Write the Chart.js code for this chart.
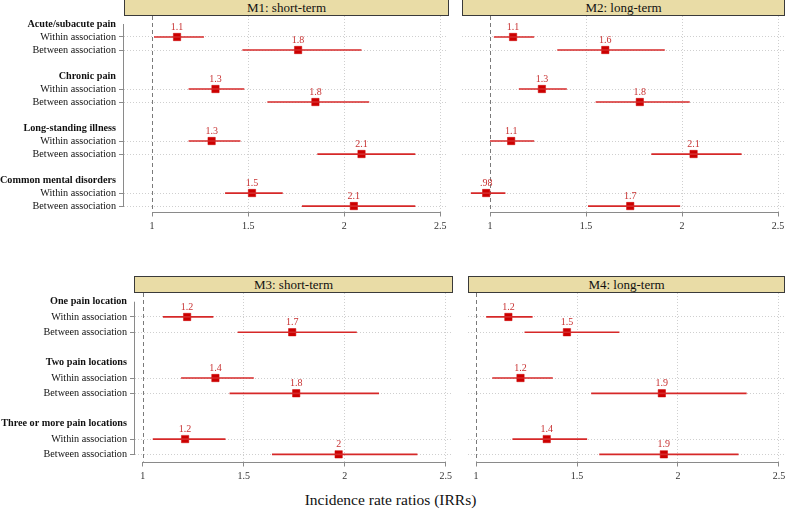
<!DOCTYPE html>
<html>
<head>
<meta charset="utf-8">
<script src="https://cdn.jsdelivr.net/npm/chart.js@4.4.0/dist/chart.umd.min.js"></script>
<style>
  body { margin: 0; width: 787px; height: 510px; background: #fff; position: relative; overflow: hidden; font-family: "Liberation Serif", serif; }
  canvas { position: absolute; }
  .head { position: absolute; box-sizing: border-box; background: #e9dca6; border: 1px solid #3a3a3a; font-size: 13px; line-height: 15px; text-align: center; color: #111; }
  #xtitle { position: absolute; left: 0; width: 781px; top: 491px; text-align: center; font-size: 15.5px; color: #111; }
</style>
</head>
<body>
<div class="head" style="left:124px;top:-1px;width:325px;height:17px">M1: short-term</div>
<div class="head" style="left:462px;top:-1px;width:323px;height:17px">M2: long-term</div>
<div class="head" style="left:134px;top:276px;width:319px;height:17px">M3: short-term</div>
<div class="head" style="left:468px;top:276px;width:317px;height:17px">M4: long-term</div>

<canvas id="m1" width="448" height="224" style="left:0;top:16px"></canvas>
<canvas id="m2" width="323" height="224" style="left:462px;top:16px"></canvas>
<canvas id="m3" width="453" height="196" style="left:0;top:293px"></canvas>
<canvas id="m4" width="317" height="196" style="left:468px;top:293px"></canvas>

<div id="xtitle">Incidence rate ratios (IRRs)</div>

<script>
// rows of each panel: for every group a "Within" and a "Between" estimate
const topGroups = ['Acute/subacute pain', 'Chronic pain', 'Long-standing illness', 'Common mental disorders'];
const bottomGroups = ['One pain location', 'Two pain locations', 'Three or more pain locations'];
const effects = ['Within association', 'Between association'];
const xTicks = [1, 1.5, 2, 2.5];

const m1Est = [1.13, 1.76, 1.33, 1.85, 1.31, 2.09, 1.52, 2.05];
const m1Lo  = [1.01, 1.47, 1.19, 1.60, 1.19, 1.86, 1.38, 1.78];
const m1Hi  = [1.27, 2.09, 1.48, 2.13, 1.46, 2.37, 1.68, 2.37];
const m1Lab = ['1.1', '1.8', '1.3', '1.8', '1.3', '2.1', '1.5', '2.1'];

const m2Est = [1.12, 1.60, 1.27, 1.78, 1.11, 2.06, 0.98, 1.73];
const m2Lo  = [1.02, 1.35, 1.15, 1.55, 1.00, 1.84, 0.90, 1.51];
const m2Hi  = [1.23, 1.91, 1.40, 2.04, 1.23, 2.31, 1.08, 1.99];
const m2Lab = ['1.1', '1.6', '1.3', '1.8', '1.1', '2.1', '.98', '1.7'];

const m3Est = [1.22, 1.74, 1.36, 1.76, 1.21, 1.97];
const m3Lo  = [1.10, 1.47, 1.19, 1.43, 1.05, 1.64];
const m3Hi  = [1.35, 2.06, 1.55, 2.17, 1.41, 2.36];
const m3Lab = ['1.2', '1.7', '1.4', '1.8', '1.2', '2'];

const m4Est = [1.16, 1.45, 1.22, 1.92, 1.35, 1.93];
const m4Lo  = [1.05, 1.24, 1.08, 1.57, 1.18, 1.61];
const m4Hi  = [1.28, 1.71, 1.38, 2.34, 1.55, 2.30];
const m4Lab = ['1.2', '1.5', '1.2', '1.9', '1.4', '1.9'];

const fontFamily = '"Liberation Serif", "Times New Roman", serif';
const axisGrey = '#8a8a8a';
const dotGrey = '#cfcfcf';

// y slots: heading, within, between, blank, heading, ...
function slotLabels(groups) {
  const out = [];
  groups.forEach(function (g, i) {
    if (i) out.push('');
    out.push(g, effects[0], effects[1]);
  });
  return out;
}
function rowSlot(i) { return Math.floor(i / 2) * 4 + 1 + (i % 2); }
function isRow(v) { return v % 4 === 1 || v % 4 === 2; }

const forestDecor = {
  id: 'forestDecor',
  beforeDatasetsDraw(chart, args, opts) {
    const ctx = chart.ctx;
    const area = chart.chartArea;
    const x = chart.scales.x, y = chart.scales.y;
    ctx.save();
    // reference line at IRR = 1
    const x1 = Math.round(x.getPixelForValue(1)) + 0.5;
    ctx.strokeStyle = '#7a7a7a';
    ctx.lineWidth = 1;
    ctx.setLineDash([4, 3]);
    ctx.beginPath();
    ctx.moveTo(x1, area.top);
    ctx.lineTo(x1, area.bottom);
    ctx.stroke();
    ctx.setLineDash([]);
    // axis lines only across the labelled range
    ctx.strokeStyle = axisGrey;
    ctx.beginPath();
    const by = Math.round(area.bottom) + 0.5;
    ctx.moveTo(x.getPixelForValue(xTicks[0]), by);
    ctx.lineTo(x.getPixelForValue(xTicks[xTicks.length - 1]), by);
    if (opts.yLine) {
      const lx = Math.round(area.left) - 0.5;
      ctx.moveTo(lx, y.getPixelForValue(0));
      ctx.lineTo(lx, y.getPixelForValue(opts.lastSlot));
    }
    ctx.stroke();
    ctx.restore();
  },
  afterDatasetsDraw(chart, args, opts) {
    const ctx = chart.ctx;
    const meta = chart.getDatasetMeta(1);
    ctx.save();
    ctx.fillStyle = '#c83232';
    ctx.font = '10px ' + fontFamily;
    ctx.textAlign = 'center';
    ctx.textBaseline = 'alphabetic';
    meta.data.forEach(function (pt, i) {
      ctx.fillText(opts.labels[i], pt.x, pt.y - 7);
    });
    ctx.restore();
  }
};

function makePanel(id, cfg) {
  const rows = cfg.est.map(function (v, i) { return rowSlot(i); });
  const labels = slotLabels(cfg.groups);
  const lastSlot = labels.length - 1;

  new Chart(document.getElementById(id), {
    type: 'bar',
    data: {
      datasets: [{
        type: 'bar',
        indexAxis: 'y',
        data: rows.map(function (s, i) { return { y: s, x: [cfg.lo[i], cfg.hi[i]] }; }),
        backgroundColor: 'rgb(214,40,40)',
        barThickness: 1.7,
        inflateAmount: 0,
        borderWidth: 0,
        grouped: false
      }, {
        type: 'scatter',
        data: rows.map(function (s, i) { return { x: cfg.est[i], y: s }; }),
        pointStyle: 'rect',
        pointRadius: 5.2,
        backgroundColor: 'rgb(204,0,0)',
        borderColor: 'rgb(204,0,0)',
        borderWidth: 0.5
      }]
    },
    options: {
      responsive: false,
      animation: false,
      layout: { padding: 0, autoPadding: false },
      plugins: {
        legend: { display: false },
        tooltip: { enabled: false },
        forestDecor: { labels: cfg.labels, yLine: cfg.showY, lastSlot: lastSlot }
      },
      scales: {
        x: {
          type: 'linear',
          min: cfg.xMin,
          max: cfg.xMax,
          offset: false,
          beginAtZero: false,
          afterBuildTicks: function (s) { s.ticks = xTicks.map(function (v) { return { value: v }; }); },
          afterFit: function (s) { s.height = cfg.xHeight; s.paddingLeft = 0; s.paddingRight = 0; },
          ticks: {
            callback: function (v) { return String(v); },
            font: { family: fontFamily, size: 10 },
            color: '#333',
            padding: 4,
            maxRotation: 0,
            autoSkip: false
          },
          grid: {
            offset: false,
            color: function (c) { return c.tick && c.tick.value === 1 ? 'rgba(0,0,0,0)' : dotGrey; },
            tickColor: axisGrey,
            tickLength: 5,
            lineWidth: 1
          },
          border: { display: false, dash: [1, 2] }
        },
        y: {
          type: 'linear',
          reverse: true,
          min: cfg.yMin,
          max: cfg.yMax,
          offset: false,
          beginAtZero: false,
          afterBuildTicks: function (s) { s.ticks = labels.map(function (l, i) { return { value: i }; }); },
          afterFit: function (s) { s.width = cfg.yWidth; s.paddingTop = 0; s.paddingBottom = 0; },
          ticks: {
            display: cfg.showY,
            autoSkip: false,
            callback: function (v) { return labels[v]; },
            font: function (c) {
              return { family: fontFamily, size: 10.2, weight: c.tick && c.tick.value % 4 === 0 ? 'bold' : 'normal' };
            },
            color: '#111',
            padding: 3
          },
          grid: {
            offset: false,
            drawTicks: cfg.showY,
            tickLength: 5,
            color: function (c) { return c.tick && isRow(c.tick.value) ? dotGrey : 'rgba(0,0,0,0)'; },
            tickColor: function (c) { return c.tick && isRow(c.tick.value) ? axisGrey : 'rgba(0,0,0,0)'; }
          },
          border: { display: false, dash: [1, 2] }
        }
      }
    },
    plugins: [forestDecor]
  });
}

makePanel('m1', { groups: topGroups, est: m1Est, lo: m1Lo, hi: m1Hi, labels: m1Lab, showY: true,
  xMin: 0.854, xMax: 2.54, yMin: -0.615, yMax: 14.42, yWidth: 124, xHeight: 28.5 });
makePanel('m2', { groups: topGroups, est: m2Est, lo: m2Lo, hi: m2Hi, labels: m2Lab, showY: false,
  xMin: 0.854, xMax: 2.536, yMin: -0.615, yMax: 14.42, yWidth: 0, xHeight: 28.5 });
makePanel('m3', { groups: bottomGroups, est: m3Est, lo: m3Lo, hi: m3Hi, labels: m3Lab, showY: true,
  xMin: 0.962, xMax: 2.536, yMin: -0.57, yMax: 10.47, yWidth: 135, xHeight: 27.5 });
makePanel('m4', { groups: bottomGroups, est: m4Est, lo: m4Lo, hi: m4Hi, labels: m4Lab, showY: false,
  xMin: 0.96, xMax: 2.53, yMin: -0.57, yMax: 10.47, yWidth: 0, xHeight: 27.5 });
</script>
</body>
</html>
